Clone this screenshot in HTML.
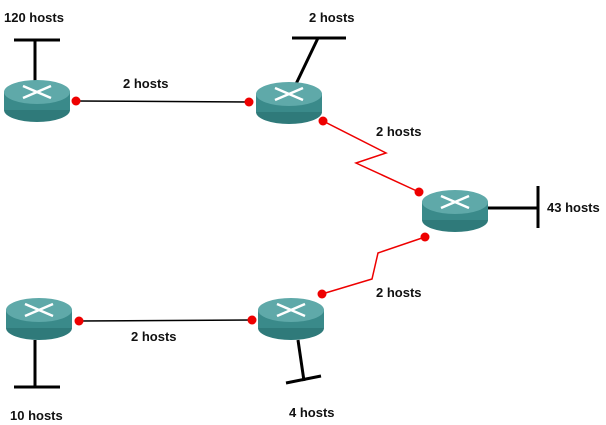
<!DOCTYPE html>
<html><head><style>body{margin:0;background:#fff}svg{display:block}text{font-family:"Liberation Sans",sans-serif;font-size:13px;font-weight:bold;fill:#111}</style></head>
<body>
<svg width="606" height="425" viewBox="0 0 606 425">
<defs>
<g id="r">
<ellipse cx="0" cy="30" rx="33" ry="12" fill="#2f7a7a"/>
<rect x="-33" y="12" width="66" height="18" fill="#3a8a8a"/>
<ellipse cx="0" cy="12" rx="33" ry="12" fill="#5fa9a9"/>
<g stroke="#fff" stroke-width="2.5" fill="none">
<line x1="-14" y1="6" x2="14" y2="18"/><line x1="-14" y1="18" x2="14" y2="6"/>
</g>
</g>
</defs>
<g stroke="#000" stroke-width="3" fill="none">
<line x1="35" y1="40" x2="35" y2="82"/><line x1="14" y1="40" x2="60" y2="40"/>
<line x1="296" y1="84" x2="318" y2="38"/><line x1="292" y1="38" x2="346" y2="38"/>
<line x1="488" y1="208" x2="538" y2="208"/><line x1="538" y1="186" x2="538" y2="228"/>
<line x1="298" y1="340" x2="304" y2="381"/><line x1="286" y1="383" x2="321" y2="376"/>
<line x1="35" y1="340" x2="35" y2="387"/><line x1="14" y1="387" x2="60" y2="387"/>
</g>
<g stroke="#000" stroke-width="1.5"><line x1="76" y1="101" x2="249" y2="102"/><line x1="79" y1="321" x2="252" y2="320"/></g>
<g stroke="#e00" stroke-width="1.5" fill="none">
<polyline points="323,121 386,153 356,163 419,192"/>
<polyline points="425,237 378,253 372,279 322,294"/>
</g>
<use href="#r" x="37" y="80"/>
<use href="#r" x="289" y="82"/>
<use href="#r" x="455" y="190"/>
<use href="#r" x="291" y="298"/>
<use href="#r" x="39" y="298"/>
<g fill="#e00">
<circle cx="76" cy="101" r="4.5"/><circle cx="249" cy="102" r="4.5"/>
<circle cx="323" cy="121" r="4.5"/><circle cx="419" cy="192" r="4.5"/>
<circle cx="425" cy="237" r="4.5"/><circle cx="322" cy="294" r="4.5"/>
<circle cx="79" cy="321" r="4.5"/><circle cx="252" cy="320" r="4.5"/>
</g>
<text x="4" y="22">120 hosts</text>
<text x="309" y="22">2 hosts</text>
<text x="123" y="88">2 hosts</text>
<text x="376" y="136">2 hosts</text>
<text x="547" y="212">43 hosts</text>
<text x="376" y="297">2 hosts</text>
<text x="131" y="341">2 hosts</text>
<text x="10" y="420">10 hosts</text>
<text x="289" y="417">4 hosts</text>
</svg>
</body></html>
